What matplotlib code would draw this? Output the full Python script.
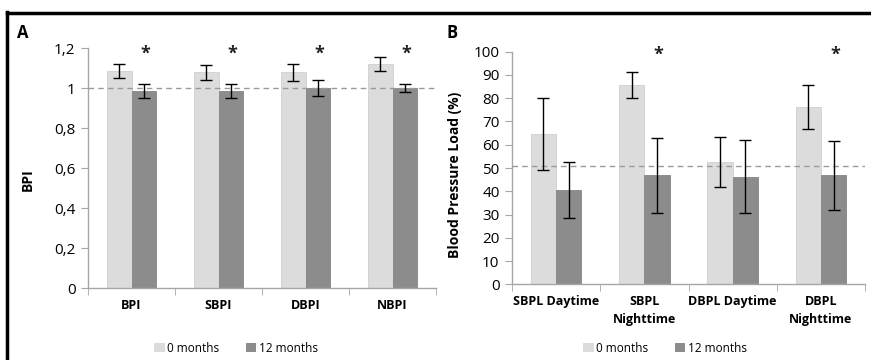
import matplotlib
matplotlib.use("Agg")
import matplotlib.pyplot as plt
from matplotlib.lines import Line2D
from matplotlib.patches import Patch
import numpy as np

plt.rcParams['font.family'] = ['Open Sans', 'DejaVu Sans']

# Panel A data
cats_a = ["BPI", "SBPI", "DBPI", "NBPI"]
a_0m = [1.085, 1.078, 1.078, 1.122]
a_0m_err = [0.035, 0.037, 0.042, 0.035]
a_12m = [0.985, 0.985, 1.0, 1.0]
a_12m_err = [0.035, 0.037, 0.040, 0.022]
a_ticks = [0, 0.2, 0.4, 0.6, 0.8, 1.0, 1.2]
a_ticklabels = ["0", "0,2", "0,4", "0,6", "0,8", "1", "1,2"]
a_sig = [True, True, True, True]
a_ref = 1.0

# Panel B data
cats_b = ["SBPL Daytime", "SBPL\nNighttime", "DBPL Daytime", "DBPL\nNighttime"]
b_0m = [64.5, 85.5, 52.5, 76.2]
b_0m_err = [15.5, 5.6, 10.7, 9.3]
b_12m = [40.5, 46.8, 46.3, 46.8]
b_12m_err = [12.0, 16.2, 15.6, 14.8]
b_ticks = list(range(0, 101, 10))
b_sig = [False, True, False, True]
b_ref = 50.8

series_labels = ["0 months", "12 months"]
c_light = "#dcdcdc"
c_dark = "#8c8c8c"
axis_c = "#a6a6a6"

fig = plt.figure(figsize=(8.71, 3.6), dpi=100)

W = 0.287


def draw(ax, cats, v0, e0, v1, e1, sig, ref, ymax, ticks, ticklabels, ylabel, star_y):
    n = len(cats)
    x = np.arange(n) + 0.5
    ax.bar(x - W / 2, v0, W, color=c_light, edgecolor="#d0d0d0", linewidth=0.6, zorder=2)
    ax.bar(x + W / 2, v1, W, color=c_dark, edgecolor="#858585", linewidth=0.6, zorder=2)
    ax.errorbar(x - W / 2, v0, yerr=e0, fmt="none", ecolor="black", elinewidth=1.0,
                capsize=4, capthick=1.0, zorder=4)
    ax.errorbar(x + W / 2, v1, yerr=e1, fmt="none", ecolor="black", elinewidth=1.0,
                capsize=4, capthick=1.0, zorder=4)
    ax.plot([0, n], [ref, ref], linestyle=(0, (4, 3)), color="#9a9a9a", linewidth=1.0, zorder=3)
    for xi, s in zip(x, sig):
        if s:
            ax.text(xi + W / 2 + 0.02, star_y, "*", ha="center", va="center",
                    fontsize=13, fontweight="bold", color="#222222")
    ax.set_xlim(0, n)
    ax.set_ylim(0, ymax)
    ax.set_yticks(ticks)
    ax.set_yticklabels(ticklabels, fontsize=11)
    ax.set_xticks(x)
    ax.set_xticklabels(cats, fontsize=9, fontweight="bold")
    ax.set_xticks(np.arange(n + 1), minor=True)
    ax.tick_params(axis="x", which="major", length=0, pad=8)
    ax.tick_params(axis="x", which="minor", length=5, color=axis_c, direction="out")
    ax.tick_params(axis="y", length=5, color=axis_c, direction="out", pad=4)
    for s in ("top", "right"):
        ax.spines[s].set_visible(False)
    for s in ("left", "bottom"):
        ax.spines[s].set_color(axis_c)
        ax.spines[s].set_linewidth(1.0)
    ax.set_ylabel(ylabel, fontsize=10, fontweight="bold")


axA = fig.add_axes([88 / 871, 1 - 288 / 360, (436 - 88) / 871, 240 / 360])
draw(axA, cats_a, a_0m, a_0m_err, a_12m, a_12m_err, a_sig, a_ref, 1.2,
     a_ticks, a_ticklabels, "BPI", 1.17)
axA.yaxis.set_label_coords(-0.152, 0.45)

axB = fig.add_axes([512 / 871, 1 - 284.3 / 360, (865 - 512) / 871, (284.3 - 51.7) / 360])
draw(axB, cats_b, b_0m, b_0m_err, b_12m, b_12m_err, b_sig, b_ref, 100,
     b_ticks, [str(t) for t in b_ticks], "Blood Pressure Load (%)", 98.5)
axB.yaxis.set_label_coords(-0.143, 0.47)
for lab in axB.get_xticklabels():
    lab.set_linespacing(1.45)

handles = [Patch(facecolor=c_light, edgecolor="none"), Patch(facecolor=c_dark, edgecolor="none")]
for cx in (236 / 871, 665 / 871):
    fig.legend(handles, series_labels, loc="center", bbox_to_anchor=(cx, 1 - 348 / 360),
               ncol=2, frameon=False, fontsize=8.5, handlelength=0.9, handleheight=0.9,
               handletextpad=0.25, columnspacing=2.2)

fig.text(17 / 871, 1 - 33 / 360, "A", fontsize=12, fontweight="bold", va="center", ha="left")
fig.text(446 / 871, 1 - 33 / 360, "B", fontsize=12, fontweight="bold", va="center", ha="left")

# frame lines
fig.add_artist(Line2D([7 / 871, 1.0], [1 - 12.5 / 360, 1 - 12.5 / 360], color="black",
                      linewidth=2.5, transform=fig.transFigure))
fig.add_artist(Line2D([7 / 871, 7 / 871], [0, 1 - 11.5 / 360], color="black",
                      linewidth=2.5, transform=fig.transFigure))

fig.savefig("out.png", dpi=100)
